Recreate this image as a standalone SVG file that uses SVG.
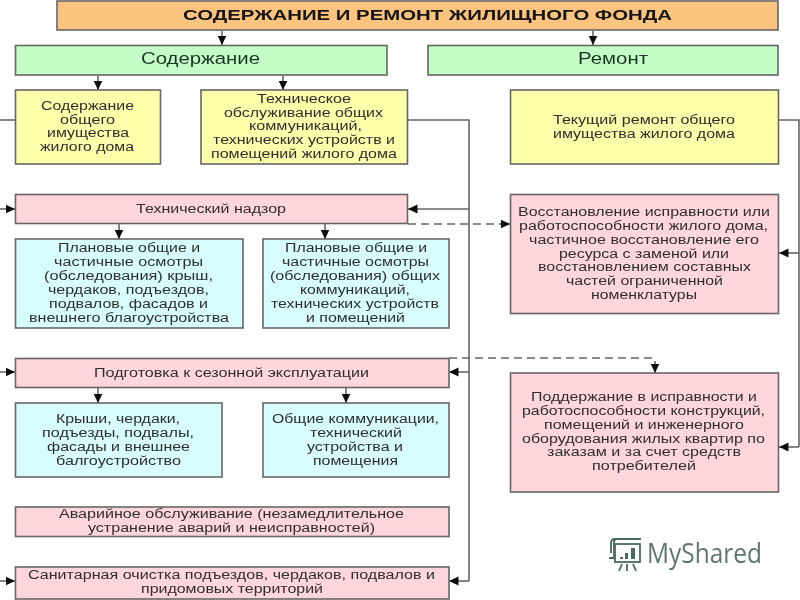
<svg xmlns="http://www.w3.org/2000/svg" width="800" height="600" viewBox="0 0 800 600">
<style>
text{font-family:"Liberation Sans",Arial,sans-serif;font-size:12.5px;fill:#2e2e2e}
.b{stroke:#666;stroke-width:1.6}
.or{fill:#fdc47f}.gr{fill:#c4fdc6}.ye{fill:#feffaa}.pi{fill:#ffd6dc}.bl{fill:#d8fdff}
.c{fill:none;stroke:#666;stroke-width:1.6}
.a{marker-end:url(#ah)}
.d{stroke-dasharray:8 5}
.t{font-size:15.5px;font-weight:bold;fill:#141414}
.h{font-size:16px;fill:#1c3624}
.w{font-family:"Open Sans","Noto Sans",sans-serif;font-size:27px;fill:#5d7570}
.i{fill:none;stroke:#4a6a60;stroke-width:1.8}
</style>
<defs>
<marker id="ah" markerUnits="userSpaceOnUse" markerWidth="10" markerHeight="10" refX="9.500" refY="5" orient="auto"><path d="M0 0.500L9.500 5L0 9.500Z" fill="#111"/></marker>
<filter id="soft" x="0" y="0" width="100%" height="100%" filterUnits="userSpaceOnUse"><feGaussianBlur stdDeviation="0.45"/></filter>
</defs>
<g filter="url(#soft)">
<g id="connectors">
<path class="c a" d="M222 31V45"/>
<path class="c a" d="M593 31V45"/>
<path class="c a" d="M98 76V90"/>
<path class="c a" d="M283 76V90"/>
<path class="c" d="M0 120H15"/>
<path class="c a" d="M0 209H15"/>
<path class="c a" d="M0 372H15"/>
<path class="c a" d="M0 581H15"/>
<path class="c" d="M408 120H469V581"/>
<path class="c a" d="M469 209H408"/>
<path class="c a" d="M469 372H449"/>
<path class="c a" d="M469 581H449"/>
<path class="c" d="M779 120H799V447"/>
<path class="c a" d="M799 253H779"/>
<path class="c a" d="M799 447H779"/>
<path class="c a" d="M119 224V239"/>
<path class="c a" d="M325 224V239"/>
<path class="c a" d="M98 388V403"/>
<path class="c a" d="M346 388V403"/>
<path class="c d" d="M408 224H502"/>
<path class="c a" d="M500 224H510"/>
<path class="c d" d="M449 358H655"/>
<path class="c a" d="M655 361V373"/>
</g>
<g id="title"><rect class="b or" x="57" y="1" width="721" height="29"/><text class="t" x="183" y="20" textLength="489" lengthAdjust="spacingAndGlyphs">СОДЕРЖАНИЕ И РЕМОНТ ЖИЛИЩНОГО ФОНДА</text></g>
<g id="soderzhanie"><rect class="b gr" x="15.5" y="45.5" width="371.5" height="29.5"/><text class="h" x="141" y="64" textLength="119" lengthAdjust="spacingAndGlyphs">Содержание</text></g>
<g id="remont"><rect class="b gr" x="428" y="45.5" width="350" height="29.5"/><text class="h" x="578" y="64" textLength="70" lengthAdjust="spacingAndGlyphs">Ремонт</text></g>
<g id="y1"><rect class="b ye" x="15.5" y="90" width="145" height="74"/>
<text x="41" y="110" textLength="93" lengthAdjust="spacingAndGlyphs">Содержание</text>
<text x="60" y="124" textLength="55" lengthAdjust="spacingAndGlyphs">общего</text>
<text x="47" y="137" textLength="82" lengthAdjust="spacingAndGlyphs">имущества</text>
<text x="40" y="151" textLength="94" lengthAdjust="spacingAndGlyphs">жилого дома</text></g>
<g id="y2"><rect class="b ye" x="201" y="90" width="206.500" height="74"/>
<text x="257" y="103" textLength="94" lengthAdjust="spacingAndGlyphs">Техническое</text>
<text x="224" y="117" textLength="159" lengthAdjust="spacingAndGlyphs">обслуживание общих</text>
<text x="249" y="130" textLength="113" lengthAdjust="spacingAndGlyphs">коммуникаций,</text>
<text x="213" y="144" textLength="182" lengthAdjust="spacingAndGlyphs">технических устройств и</text>
<text x="211" y="158" textLength="186" lengthAdjust="spacingAndGlyphs">помещений жилого дома</text></g>
<g id="y3"><rect class="b ye" x="510.500" y="90" width="268" height="74"/>
<text x="553" y="124" textLength="182" lengthAdjust="spacingAndGlyphs">Текущий ремонт общего</text>
<text x="553" y="138" textLength="182" lengthAdjust="spacingAndGlyphs">имущества жилого дома</text></g>
<g id="nadzor"><rect class="b pi" x="15.5" y="194.500" width="392" height="29"/><text x="136" y="213" textLength="150" lengthAdjust="spacingAndGlyphs">Технический надзор</text></g>
<g id="b1"><rect class="b bl" x="15.5" y="239" width="227.500" height="89"/>
<text x="58" y="252" textLength="142" lengthAdjust="spacingAndGlyphs">Плановые общие и</text>
<text x="54" y="266" textLength="149" lengthAdjust="spacingAndGlyphs">частичные осмотры</text>
<text x="44" y="280" textLength="169" lengthAdjust="spacingAndGlyphs">(обследования) крыш,</text>
<text x="48" y="294" textLength="161" lengthAdjust="spacingAndGlyphs">чердаков, подъездов,</text>
<text x="49" y="308" textLength="159" lengthAdjust="spacingAndGlyphs">подвалов, фасадов и</text>
<text x="29" y="322" textLength="200" lengthAdjust="spacingAndGlyphs">внешнего благоустройства</text></g>
<g id="b2"><rect class="b bl" x="263" y="239" width="186" height="89"/>
<text x="285" y="252" textLength="142" lengthAdjust="spacingAndGlyphs">Плановые общие и</text>
<text x="282" y="266" textLength="147" lengthAdjust="spacingAndGlyphs">частичные осмотры</text>
<text x="270" y="280" textLength="170" lengthAdjust="spacingAndGlyphs">(обследования) общих</text>
<text x="300" y="294" textLength="110" lengthAdjust="spacingAndGlyphs">коммуникаций,</text>
<text x="271" y="308" textLength="168" lengthAdjust="spacingAndGlyphs">технических устройств</text>
<text x="306" y="322" textLength="99" lengthAdjust="spacingAndGlyphs">и помещений</text></g>
<g id="p1"><rect class="b pi" x="510.500" y="194.500" width="268" height="119"/>
<text x="518" y="216" textLength="252" lengthAdjust="spacingAndGlyphs">Восстановление исправности или</text>
<text x="519" y="230" textLength="249" lengthAdjust="spacingAndGlyphs">работоспособности жилого дома,</text>
<text x="529" y="244" textLength="230" lengthAdjust="spacingAndGlyphs">частичное восстановление его</text>
<text x="559" y="258" textLength="170" lengthAdjust="spacingAndGlyphs">ресурса с заменой или</text>
<text x="538" y="271" textLength="213" lengthAdjust="spacingAndGlyphs">восстановлением составных</text>
<text x="566" y="285" textLength="157" lengthAdjust="spacingAndGlyphs">частей ограниченной</text>
<text x="591" y="299" textLength="106" lengthAdjust="spacingAndGlyphs">номенклатуры</text></g>
<g id="podgotovka"><rect class="b pi" x="15.5" y="358.500" width="433.500" height="29"/><text x="94" y="377" textLength="275" lengthAdjust="spacingAndGlyphs">Подготовка к сезонной эксплуатации</text></g>
<g id="b3"><rect class="b bl" x="15.5" y="403" width="206.500" height="74"/>
<text x="56" y="423" textLength="124" lengthAdjust="spacingAndGlyphs">Крыши, чердаки,</text>
<text x="42" y="437" textLength="152" lengthAdjust="spacingAndGlyphs">подъезды, подвалы,</text>
<text x="47" y="451" textLength="143" lengthAdjust="spacingAndGlyphs">фасады и внешнее</text>
<text x="56" y="465" textLength="125" lengthAdjust="spacingAndGlyphs">балгоустройство</text></g>
<g id="b4"><rect class="b bl" x="263" y="403" width="186" height="74"/>
<text x="272" y="423" textLength="167" lengthAdjust="spacingAndGlyphs">Общие коммуникации,</text>
<text x="310" y="437" textLength="92" lengthAdjust="spacingAndGlyphs">технический</text>
<text x="307" y="451" textLength="96" lengthAdjust="spacingAndGlyphs">устройства и</text>
<text x="313" y="465" textLength="85" lengthAdjust="spacingAndGlyphs">помещения</text></g>
<g id="p2"><rect class="b pi" x="510.500" y="373" width="268" height="119"/>
<text x="531" y="401" textLength="226" lengthAdjust="spacingAndGlyphs">Поддержание в исправности и</text>
<text x="522" y="415" textLength="243" lengthAdjust="spacingAndGlyphs">работоспособности конструкций,</text>
<text x="544" y="429" textLength="200" lengthAdjust="spacingAndGlyphs">помещений и инженерного</text>
<text x="522" y="443" textLength="243" lengthAdjust="spacingAndGlyphs">оборудования жилых квартир по</text>
<text x="547" y="456" textLength="194" lengthAdjust="spacingAndGlyphs">заказам и за счет средств</text>
<text x="592" y="470" textLength="104" lengthAdjust="spacingAndGlyphs">потребителей</text></g>
<g id="avar"><rect class="b pi" x="15.5" y="507" width="433.500" height="29.500"/>
<text x="59" y="518" textLength="345" lengthAdjust="spacingAndGlyphs">Аварийное обслуживание (незамедлительное</text>
<text x="88" y="532" textLength="287" lengthAdjust="spacingAndGlyphs">устранение аварий и неисправностей)</text></g>
<g id="sanit"><rect class="b pi" x="15.5" y="567" width="433.500" height="32"/>
<text x="28" y="579" textLength="407" lengthAdjust="spacingAndGlyphs">Санитарная очистка подъездов, чердаков, подвалов и</text>
<text x="141" y="593" textLength="182" lengthAdjust="spacingAndGlyphs">придомовых территорий</text></g>
<g id="watermark">
<path class="i" d="M611 553V543Q611 539 615 539H641M616 539Q613 541 614 546V558H609"/>
<rect class="i" x="615" y="544" width="25" height="18"/>
<path d="M620 557h3v2h-3zM625 553h3v6h-3zM631 548h4v11h-4z" fill="#4a6a60"/>
<path class="i" d="M622 564L619 571M627 564V571M633 564L636 571"/>
<text class="w" x="647" y="563" textLength="115" lengthAdjust="spacingAndGlyphs">MyShared</text>
</g>
</g>
</svg>
